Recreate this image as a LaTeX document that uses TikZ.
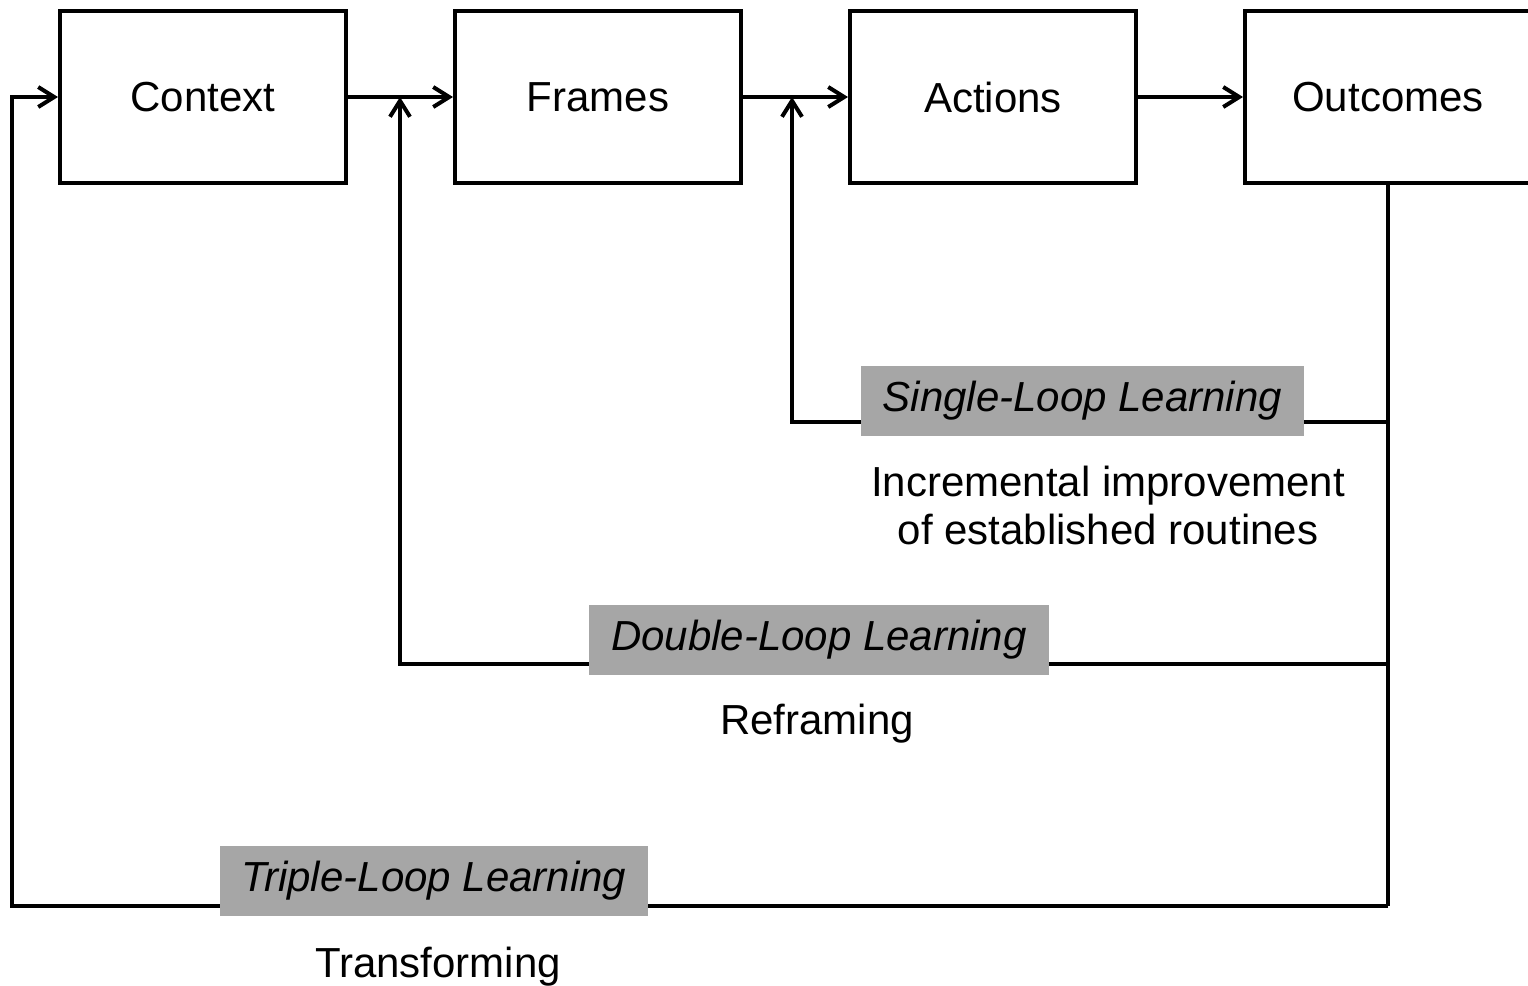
\documentclass[tikz,border=0pt]{standalone}
\usepackage{fontspec}
\setmainfont{Liberation Sans}
\usetikzlibrary{positioning,arrows.meta}
\definecolor{loopgray}{RGB}{166,166,166}

\tikzset{
  stage/.style={draw, line width=2pt, minimum width=143pt, minimum height=86pt, inner sep=0pt},
  looplabel/.style={fill=loopgray, inner xsep=11pt, minimum height=35pt, font=\fontsize{21}{24}\selectfont\itshape},
  flow/.style={line width=2pt, -{Straight Barb[length=8pt,width=10pt]}},
  loopline/.style={line width=2pt},
}

\begin{document}
\begin{tikzpicture}[x=0.5pt, y=-0.5pt, font=\fontsize{21}{24}\selectfont]
  \useasboundingbox (0,0) rectangle (1528,986);
  % stages
  \node[stage] (context) at (203,97) {Context};
  \node[stage, right=52.5pt of context] (frames) {Frames};
  \node[stage, right=52.5pt of frames] (actions) {Actions};
  \node[stage, right=52.5pt of actions] (outcomes) {Outcomes};
  \foreach \a/\b in {context/frames, frames/actions, actions/outcomes}
    \draw[flow] (\a) -- (\b);
  % feedback loops
  \coordinate (single) at (792,422);
  \coordinate (double) at (400,664);
  \coordinate (triple) at (12,906);
  \draw[loopline] (outcomes.south) -- (outcomes.south |- triple);
  \draw[flow] (outcomes.south |- single) -- (single) -- (single |- actions.west);
  \draw[flow] (outcomes.south |- double) -- (double) -- (double |- frames.west);
  \draw[flow] (outcomes.south |- triple) -- (triple) |- (context.west);
  % labels
  \node[looplabel] (singlelabel) at (1082.5,401) {Single-Loop Learning};
  \node[looplabel] (doublelabel) at (819,640) {Double-Loop Learning};
  \node[looplabel] (triplelabel) at (434,881) {Triple-Loop Learning};
  \node[align=center] (singletext) at (1108,505) {Incremental improvement\\of established routines};
  \node (doubletext) at (817,724) {Reframing};
  \node (tripletext) at (438,967) {Transforming};
\end{tikzpicture}
\end{document}
